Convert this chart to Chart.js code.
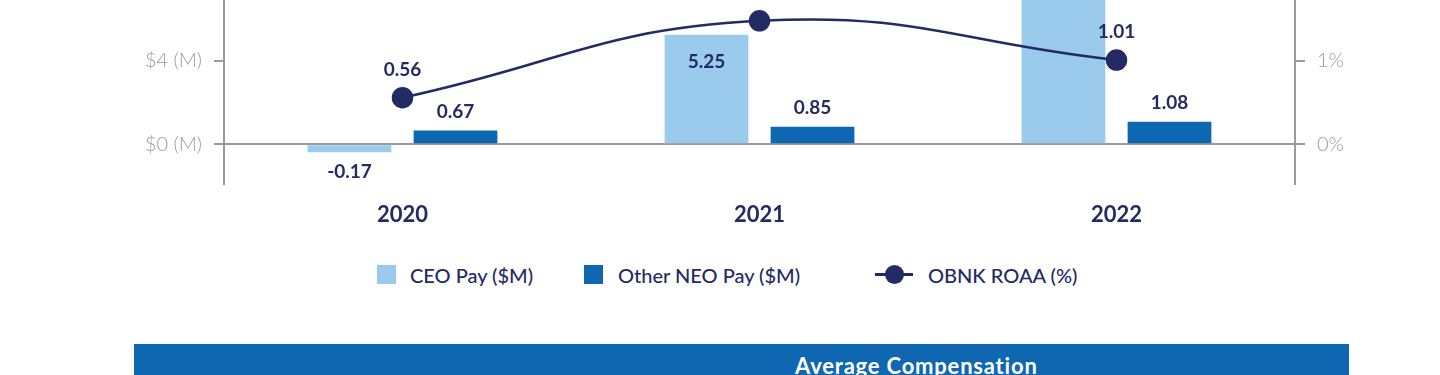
<!DOCTYPE html>
<html>
<head>
<meta charset="utf-8">
<script src="https://cdn.jsdelivr.net/npm/chart.js@4.4.0/dist/chart.umd.min.js"></script>
<style>
body { margin: 0; width: 1440px; height: 375px; overflow: hidden; position: relative; background: #fff; font-family: Lato, sans-serif; }
#wrap { position: absolute; left: 0; top: -130px; width: 1440px; height: 370px; }
.lg { position: absolute; color: #232B65; font-size: 20px; font-weight: 500; line-height: 20px; top: 265px; white-space: nowrap; }
.sq { position: absolute; top: 265px; width: 19px; height: 19px; }
#banner { position: absolute; left: 134px; top: 344px; width: 1215px; height: 60px; background: #0E67B0; }
#banner span { position: absolute; left: 661px; top: 8px; color: #fff; font-size: 22px; font-weight: 700; letter-spacing: 0.8px; white-space: nowrap; }
</style>
</head>
<body>
<div id="wrap"><canvas id="payChart"></canvas></div>

<div class="sq" style="left:377px;background:#9ACBEC"></div>
<div class="lg" style="left:410px">CEO Pay ($M)</div>
<div class="sq" style="left:584px;background:#0E67B0"></div>
<div class="lg" style="left:618px">Other NEO Pay ($M)</div>
<div style="position:absolute;left:875px;top:273px;width:38px;height:3px;background:#232B65"></div>
<div style="position:absolute;left:885px;top:265px;width:19px;height:19px;border-radius:50%;background:#232B65"></div>
<div class="lg" style="left:928px">OBNK ROAA (%)</div>

<div id="banner"><span>Average Compensation</span></div>

<script>
const years = ['2020', '2021', '2022'];
const ceoPay = [-0.17, 5.25, 9.6];
const neoPay = [0.67, 0.85, 1.08];
const roaa = [0.56, 1.48, 1.01];
const payTicks = [0, 4, 8, 12];
const roaaTicks = [0, 1, 2, 3];

const navy = '#232B65';
const gray = '#9B9B9B';

// value labels next to bars and points
const valueLabels = {
    id: 'valueLabels',
    afterDatasetsDraw(chart) {
        const ctx = chart.ctx;
        ctx.save();
        ctx.fillStyle = navy;
        ctx.font = '700 19px Lato';
        ctx.textAlign = 'center';
        ctx.textBaseline = 'middle';
        chart.data.datasets.forEach((ds, i) => {
            const meta = chart.getDatasetMeta(i);
            meta.data.forEach((el, j) => {
                const v = ds.data[j];
                let y;
                if (ds.type === 'line') {
                    y = el.y - 28;
                } else if (ds.label.startsWith('CEO')) {
                    y = v >= 0 ? el.y + 27 : el.y + 20;
                } else {
                    y = el.y - 19;
                }
                ctx.fillText(v.toFixed(2), el.x, y);
            });
        });
        ctx.restore();
    }
};

const payCtx = document.getElementById('payChart').getContext('2d');
const payChart = new Chart(payCtx, {
    type: 'bar',
    data: {
        labels: years,
        datasets: [{
            type: 'line',
            label: 'OBNK ROAA (%)',
            data: roaa,
            yAxisID: 'y2',
            borderColor: navy,
            backgroundColor: navy,
            borderWidth: 2.5,
            pointRadius: 9.5,
            pointHoverRadius: 9.5,
            tension: 0.45,
            order: 0
        }, {
            label: 'CEO Pay ($M)',
            data: ceoPay,
            backgroundColor: '#9ACBEC',
            categoryPercentage: 0.594,
            barPercentage: 0.79,
            minBarLength: 8,
            order: 1
        }, {
            label: 'Other NEO Pay ($M)',
            data: neoPay,
            backgroundColor: '#0E67B0',
            categoryPercentage: 0.594,
            barPercentage: 0.79,
            order: 2
        }]
    },
    options: {
        responsive: true,
        maintainAspectRatio: false,
        animation: false,
        layout: { padding: { left: 124, right: 45, top: 2, bottom: 0 } },
        plugins: { legend: { display: false }, tooltip: { enabled: false } },
        scales: {
            x: {
                offset: true,
                grid: { display: false, drawTicks: false },
                border: { display: false },
                ticks: { color: navy, font: { family: 'Lato', size: 22, weight: '700' }, padding: 18 },
                afterFit: s => { s.height = 56; }
            },
            y: {
                position: 'left',
                min: -1.9,
                max: 12,
                afterBuildTicks: s => { s.ticks = payTicks.map(v => ({ value: v })); },
                afterFit: s => { s.width = 100; },
                border: { display: true, color: gray, width: 2 },
                grid: {
                    color: c => c.tick && c.tick.value === 0 ? gray : 'transparent',
                    lineWidth: 2,
                    tickColor: gray,
                    tickLength: 10
                },
                ticks: {
                    color: gray,
                    font: { family: 'Lato', size: 20, weight: '300' },
                    padding: 12,
                    callback: v => '$' + v + ' (M)'
                }
            },
            y2: {
                position: 'right',
                min: -0.475,
                max: 3,
                afterBuildTicks: s => { s.ticks = roaaTicks.map(v => ({ value: v })); },
                afterFit: s => { s.width = 100; },
                border: { display: true, color: gray, width: 2 },
                grid: { drawOnChartArea: false, lineWidth: 2, tickColor: gray, tickLength: 10 },
                ticks: {
                    color: gray,
                    font: { family: 'Lato', size: 20, weight: '300' },
                    padding: 12,
                    callback: v => v + '%'
                }
            }
        }
    },
    plugins: [valueLabels]
});
</script>
</body>
</html>
